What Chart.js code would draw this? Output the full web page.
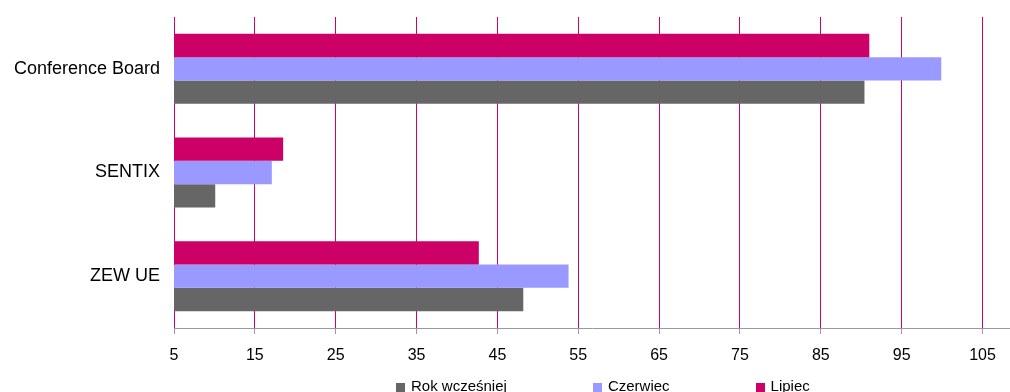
<!DOCTYPE html>
<html>
<head>
  <title>Wskaźniki koniunktury</title>
  <meta charset="utf-8">
  <script src="https://cdn.jsdelivr.net/npm/chart.js"></script>
  <style>
    html, body {
      margin: 0;
      padding: 0;
      background: #fff;
      overflow: hidden;
    }
    #wrap {
      position: relative;
      width: 1010px;
      height: 392px;
    }
    #legend {
      position: absolute;
      left: 396px;
      top: 377px;
      display: flex;
      font: 15px "Liberation Sans", Arial, sans-serif;
      line-height: 17px;
      color: #000;
      white-space: nowrap;
    }
    #legend .item {
      display: flex;
      align-items: flex-start;
      margin-right: 86px;
    }
    #legend .box {
      width: 9px;
      height: 9px;
      margin-top: 6px;
      margin-right: 6px;
    }
  </style>
</head>
<body>

<div id="wrap">
  <canvas id="chart" width="1010" height="392"></canvas>
  <div id="legend"></div>
</div>

<script>
  // data
  var categories = ['Conference Board', 'SENTIX', 'ZEW UE'];
  var lipiec = [91.0, 18.5, 42.7];
  var czerwiec = [99.9, 17.1, 53.8];
  var rokWczesniej = [90.4, 10.1, 48.2];
  var xTicks = [5, 15, 25, 35, 45, 55, 65, 75, 85, 95, 105];

  var font = '"Liberation Sans", Arial, sans-serif';

  var ctx = document.getElementById('chart').getContext('2d');
  var chart = new Chart(ctx, {
    type: 'bar',
    data: {
      labels: categories,
      datasets: [{
        label: 'Lipiec',
        data: lipiec,
        backgroundColor: '#cc0066'
      }, {
        label: 'Czerwiec',
        data: czerwiec,
        backgroundColor: '#9999ff'
      }, {
        label: 'Rok wcześniej',
        data: rokWczesniej,
        backgroundColor: '#666666'
      }]
    },
    options: {
      responsive: false,
      animation: false,
      indexAxis: 'y',
      categoryPercentage: 0.675,
      barPercentage: 1,
      layout: {
        padding: { top: 17, right: 0, bottom: 0, left: 0 }
      },
      scales: {
        x: {
          min: 5,
          max: 108.4,
          afterBuildTicks: function (axis) {
            axis.ticks = xTicks.map(function (v) { return { value: v }; });
          },
          afterFit: function (axis) {
            axis.height = 64;
          },
          grid: {
            color: '#cc0066',
            lineWidth: 1,
            tickColor: '#999999',
            tickLength: 6
          },
          border: {
            color: '#999999',
            width: 1
          },
          ticks: {
            color: '#000',
            padding: 12,
            font: { family: font, size: 16 }
          }
        },
        y: {
          afterFit: function (axis) {
            axis.width = 174;
            // the category labels should not push the plot down
            axis.paddingTop = 0;
            axis.paddingBottom = 0;
          },
          grid: { display: false, drawTicks: false },
          border: { display: false },
          ticks: {
            color: '#000',
            padding: 14,
            font: { family: font, size: 18 }
          }
        }
      },
      plugins: {
        legend: { display: false },
        tooltip: { enabled: false }
      }
    }
  });

  // legend below the axis, reversed order like the original
  var legend = document.getElementById('legend');
  chart.data.datasets.slice().reverse().forEach(function (ds) {
    var item = document.createElement('div');
    item.className = 'item';
    item.innerHTML = '<span class="box" style="background:' + ds.backgroundColor + '"></span>' +
      '<span>' + ds.label + '</span>';
    legend.appendChild(item);
  });
</script>
</body>
</html>
